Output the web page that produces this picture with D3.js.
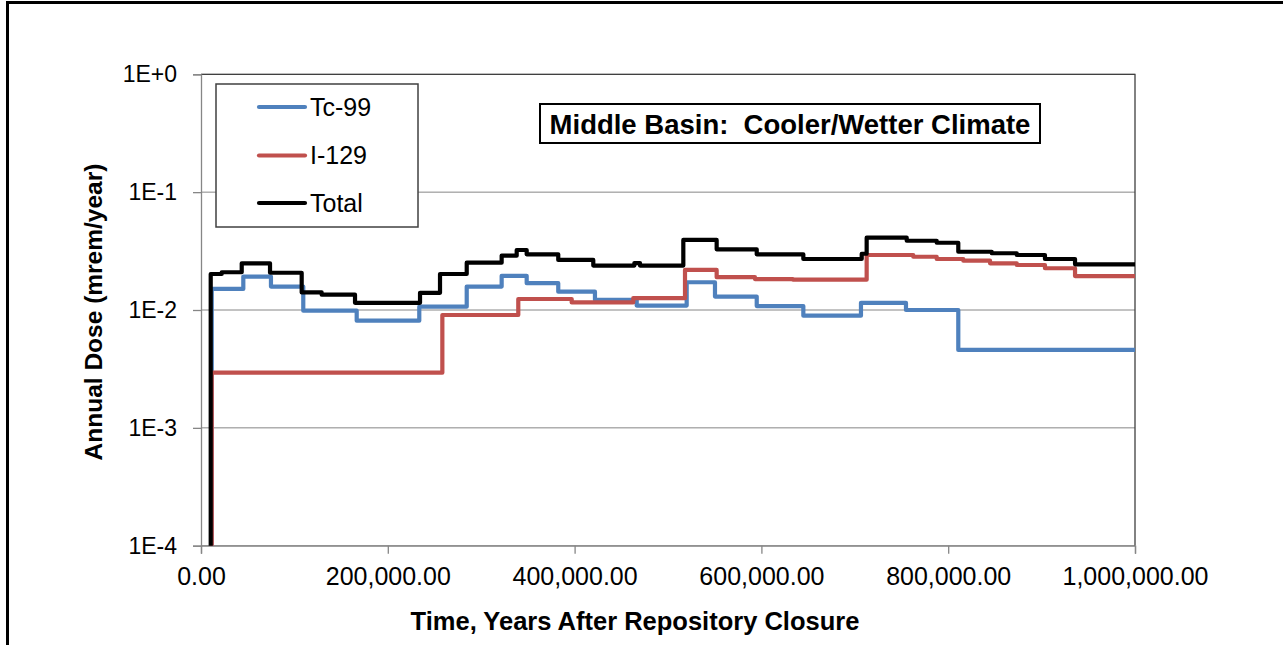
<!DOCTYPE html>
<html>
<head>
<meta charset="utf-8">
<script src="https://cdn.jsdelivr.net/npm/d3@7/dist/d3.min.js"></script>
<style>
  html, body { margin: 0; padding: 0; background: #fff; }
  svg { display: block; font-family: "Liberation Sans", Arial, sans-serif; }
</style>
</head>
<body>
<svg id="chart" width="1283" height="645"></svg>
<script>
// Annual dose by radionuclide (mrem/year) vs. time after repository closure (years).
// Each series is a step function: value holds from its time until the next time.
const tcTimes = [9000, 11500, 45300, 74900, 109500, 166700, 233700, 284500, 321900, 348700,
  382500, 421800, 466500, 520000, 550300, 595000, 644900, 706600, 754800, 810800, 1000000];
const tcDose = [1e-5, 0.0151, 0.0192, 0.0158, 0.00987, 0.00811, 0.01067, 0.0158, 0.0195, 0.0169,
  0.0143, 0.0122, 0.0109, 0.0172, 0.0130, 0.0108, 0.00895, 0.0115, 0.0100, 0.00458, 0.00458];

const iTimes = [9000, 11500, 258400, 339700, 396900, 462800, 518200, 552100, 593100, 633800,
  712700, 762600, 787700, 816200, 844800, 873400, 903600, 935800, 1000000];
const iDose = [1e-5, 0.00294, 0.00907, 0.0124, 0.0116, 0.0126, 0.0219, 0.0190, 0.0183, 0.0181,
  0.0293, 0.0283, 0.0271, 0.0262, 0.0249, 0.0241, 0.0226, 0.0194, 0.0194];

const totalTimes = [8500, 10400, 22200, 43600, 73900, 107800, 129200, 164900, 234500, 255900,
  284500, 321900, 338000, 348700, 382500, 420000, 464000, 470000, 516400, 552100, 595000,
  644900, 707400, 712700, 755600, 787700, 810800, 846600, 873400, 903600, 935800, 1000000];
const totalDose = [1e-5, 0.0202, 0.0209, 0.0249, 0.0207, 0.0141, 0.0135, 0.0115, 0.0140, 0.0202,
  0.0252, 0.0289, 0.0323, 0.0297, 0.0266, 0.0238, 0.0250, 0.0238, 0.0393, 0.0327, 0.0297,
  0.0271, 0.0300, 0.0411, 0.0387, 0.0372, 0.0312, 0.0303, 0.0293, 0.0271, 0.0244, 0.0244];

const seriesNames = ["Tc-99", "I-129", "Total"];
const seriesColors = ["#4F81BD", "#C0504D", "#000000"];
const yTickValues = [1e-4, 1e-3, 1e-2, 1e-1, 1];
const xTickValues = [0, 200000, 400000, 600000, 800000, 1000000];
const chartTitle = "Middle Basin:  Cooler/Wetter Climate";
const xTitle = "Time, Years After Repository Closure";
const yTitle = "Annual Dose (mrem/year)";

const series = [
  { name: seriesNames[0], color: seriesColors[0], pts: tcTimes.map((t, i) => [t, tcDose[i]]) },
  { name: seriesNames[1], color: seriesColors[1], pts: iTimes.map((t, i) => [t, iDose[i]]) },
  { name: seriesNames[2], color: seriesColors[2], pts: totalTimes.map((t, i) => [t, totalDose[i]]) }
];

const svg = d3.select("#chart");
const plot = { left: 201, right: 1135, top: 74.3, bottom: 545.7 };

// outer frame
svg.append("rect").attr("x", 7.5).attr("y", 2.5).attr("width", 1400).attr("height", 800)
  .attr("fill", "none").attr("stroke", "#000").attr("stroke-width", 3);

const x = d3.scaleLinear().domain([0, 1000000]).range([plot.left, plot.right]);
const y = d3.scaleLog().domain([1e-4, 1]).range([plot.bottom, plot.top]);

// horizontal gridlines
svg.append("g").selectAll("line").data(yTickValues).join("line")
  .attr("x1", plot.left).attr("x2", plot.right)
  .attr("y1", d => y(d)).attr("y2", d => y(d))
  .attr("stroke", "#868686").attr("stroke-width", 1);

// plot area border (top / right)
svg.append("path")
  .attr("d", `M${plot.left},${plot.top}H${plot.right}V${plot.bottom}`)
  .attr("fill", "none").attr("stroke", "#404040").attr("stroke-width", 1.3);

// axes
const yFmt = d => { const e = Math.round(Math.log10(d)); return "1E" + (e >= 0 ? "+" : "") + e; };
const yAxis = svg.append("g").attr("transform", `translate(${plot.left},0)`)
  .call(d3.axisLeft(y).tickValues(yTickValues).tickFormat(yFmt).tickSize(8).tickPadding(16));
const xAxis = svg.append("g").attr("transform", `translate(0,${plot.bottom})`)
  .call(d3.axisBottom(x).tickValues(xTickValues).tickFormat(d3.format(",.2f")).tickSize(8).tickPadding(8));

[yAxis, xAxis].forEach(g => {
  g.select(".domain").attr("stroke", "#868686").attr("stroke-width", 1.3);
  g.selectAll(".tick line").attr("stroke", "#868686").attr("stroke-width", 1.3);
  g.selectAll(".tick text").attr("fill", "#000")
    .style("font-family", '"Liberation Sans", Arial, sans-serif');
});
yAxis.selectAll(".tick text").style("font-size", "23px");
xAxis.selectAll(".tick text").style("font-size", "25px").attr("dy", "0.95em");

// series lines
svg.append("clipPath").attr("id", "plotClip").append("rect")
  .attr("x", plot.left).attr("y", plot.top - 5)
  .attr("width", plot.right - plot.left).attr("height", plot.bottom - plot.top + 5);

const line = d3.line().x(d => x(d[0])).y(d => y(d[1])).curve(d3.curveStepAfter);
const lines = svg.append("g").attr("clip-path", "url(#plotClip)");
series.forEach(s => {
  lines.append("path").datum(s.pts).attr("d", line)
    .attr("fill", "none").attr("stroke", s.color).attr("stroke-width", 4.2)
    .attr("stroke-linejoin", "round").attr("stroke-linecap", "round");
});

// legend
const legend = svg.append("g");
legend.append("rect").attr("x", 216).attr("y", 84).attr("width", 202).attr("height", 143)
  .attr("fill", "#fff").attr("stroke", "#404040").attr("stroke-width", 1.5);
const legendY = [107, 155.5, 203];
series.forEach((s, i) => {
  legend.append("line").attr("x1", 259).attr("x2", 305)
    .attr("y1", legendY[i]).attr("y2", legendY[i])
    .attr("stroke", s.color).attr("stroke-width", 4.2).attr("stroke-linecap", "round");
  legend.append("text").attr("x", 310).attr("y", legendY[i]).attr("dy", "0.35em")
    .style("font-size", "25px").attr("fill", "#000").text(s.name);
});

// title box
svg.append("rect").attr("x", 540).attr("y", 104).attr("width", 500).attr("height", 39)
  .attr("fill", "#fff").attr("stroke", "#000").attr("stroke-width", 2);
svg.append("text").attr("x", 790).attr("y", 124).attr("dy", "0.36em")
  .attr("text-anchor", "middle").style("font-size", "27.5px").style("font-weight", "bold")
  .style("white-space", "pre").attr("fill", "#000").text(chartTitle);

// axis titles
svg.append("text").attr("x", 635).attr("y", 621).attr("dy", "0.35em")
  .attr("text-anchor", "middle").style("font-size", "25.5px").style("font-weight", "bold")
  .attr("fill", "#000").text(xTitle);
svg.append("text").attr("transform", "translate(93,312) rotate(-90)").attr("dy", "0.35em")
  .attr("text-anchor", "middle").style("font-size", "24.5px").style("font-weight", "bold")
  .attr("fill", "#000").text(yTitle);
</script>
</body>
</html>
